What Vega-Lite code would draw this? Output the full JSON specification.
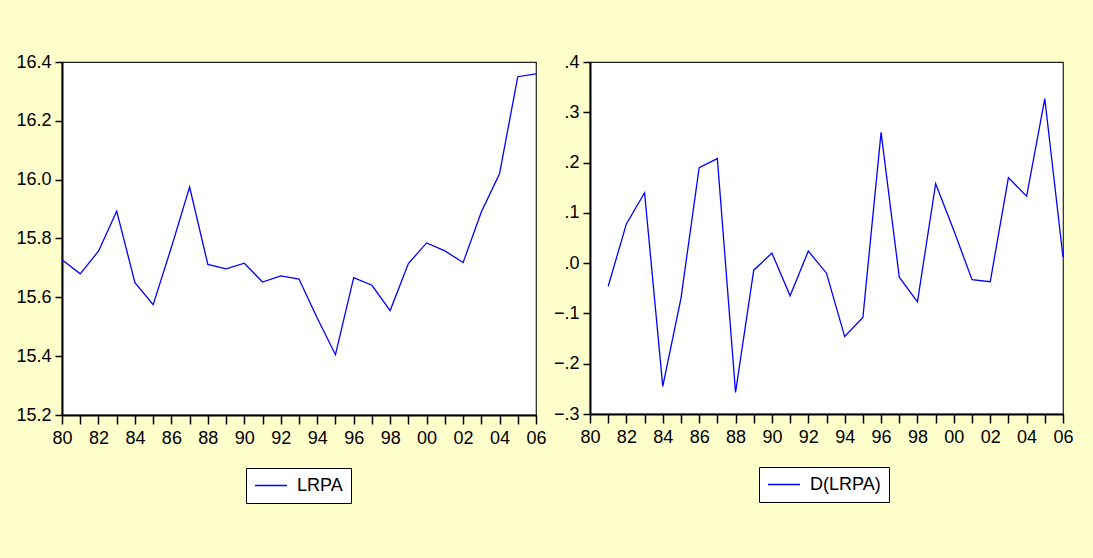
{
  "$schema": "https://vega.github.io/schema/vega-lite/v6.json",
  "background": "#FFFFCC",
  "padding": {"left": 15, "top": 52, "right": 19, "bottom": 53},
  "config": {
    "font": "Liberation Sans",
    "view": {"stroke": "#222222", "strokeWidth": 1.2, "fill": "#FFFFFF"},
    "axis": {
      "domainColor": "#000000",
      "domainWidth": 2,
      "tickColor": "#000000",
      "tickWidth": 1.5,
      "labelColor": "#000000",
      "labelFont": "Liberation Sans",
      "labelFontSize": 18,
      "grid": false,
      "title": null,
      "labelOverlap": false,
      "labelFlush": false
    },
    "axisX": {"tickSize": 9, "labelPadding": 5},
    "axisY": {"tickSize": 7, "labelPadding": 4},
    "legend": {
      "orient": "none",
      "title": null,
      "strokeColor": "#000000",
      "fillColor": "#FFFFFF",
      "padding": 8,
      "symbolType": "stroke",
      "symbolSize": 1024,
      "symbolStrokeWidth": 1.5,
      "clipHeight": 19,
      "labelFont": "Liberation Sans",
      "labelFontSize": 18,
      "labelColor": "#000000",
      "labelOffset": 9
    },
    "concat": {"spacing": 5}
  },
  "resolve": {"scale": {"color": "independent", "x": "independent", "y": "independent"}, "legend": {"color": "independent"}},
  "hconcat": [
    {
      "width": 474,
      "height": 353,
      "data": {"values": [
        {"year": 1980, "value": 15.728, "series": "LRPA"},
        {"year": 1981, "value": 15.680, "series": "LRPA"},
        {"year": 1982, "value": 15.757, "series": "LRPA"},
        {"year": 1983, "value": 15.893, "series": "LRPA"},
        {"year": 1984, "value": 15.650, "series": "LRPA"},
        {"year": 1985, "value": 15.575, "series": "LRPA"},
        {"year": 1986, "value": 15.770, "series": "LRPA"},
        {"year": 1987, "value": 15.975, "series": "LRPA"},
        {"year": 1988, "value": 15.712, "series": "LRPA"},
        {"year": 1989, "value": 15.697, "series": "LRPA"},
        {"year": 1990, "value": 15.716, "series": "LRPA"},
        {"year": 1991, "value": 15.652, "series": "LRPA"},
        {"year": 1992, "value": 15.673, "series": "LRPA"},
        {"year": 1993, "value": 15.662, "series": "LRPA"},
        {"year": 1994, "value": 15.530, "series": "LRPA"},
        {"year": 1995, "value": 15.405, "series": "LRPA"},
        {"year": 1996, "value": 15.667, "series": "LRPA"},
        {"year": 1997, "value": 15.641, "series": "LRPA"},
        {"year": 1998, "value": 15.555, "series": "LRPA"},
        {"year": 1999, "value": 15.715, "series": "LRPA"},
        {"year": 2000, "value": 15.785, "series": "LRPA"},
        {"year": 2001, "value": 15.758, "series": "LRPA"},
        {"year": 2002, "value": 15.718, "series": "LRPA"},
        {"year": 2003, "value": 15.890, "series": "LRPA"},
        {"year": 2004, "value": 16.020, "series": "LRPA"},
        {"year": 2005, "value": 16.350, "series": "LRPA"},
        {"year": 2006, "value": 16.360, "series": "LRPA"}
      ]},
      "mark": {"type": "line", "strokeWidth": 1.3},
      "encoding": {
        "x": {
          "field": "year", "type": "quantitative",
          "scale": {"domain": [1980, 2006], "nice": false, "zero": false},
          "axis": {
            "values": [1980,1981,1982,1983,1984,1985,1986,1987,1988,1989,1990,1991,1992,1993,1994,1995,1996,1997,1998,1999,2000,2001,2002,2003,2004,2005,2006],
            "labelExpr": "datum.value % 2 == 0 ? slice(format(datum.value, 'd'), 2) : ''"
          }
        },
        "y": {
          "field": "value", "type": "quantitative",
          "scale": {"domain": [15.2, 16.4], "nice": false, "zero": false},
          "axis": {"values": [15.2, 15.4, 15.6, 15.8, 16.0, 16.2, 16.4], "format": ".1f"}
        },
        "color": {
          "field": "series", "type": "nominal",
          "scale": {"range": ["#0000FF"]},
          "legend": {"legendX": 184, "legendY": 406}
        }
      }
    },
    {
      "width": 473,
      "height": 352,
      "data": {"values": [
        {"year": 1981, "value": -0.046, "series": "D(LRPA)"},
        {"year": 1982, "value": 0.078, "series": "D(LRPA)"},
        {"year": 1983, "value": 0.140, "series": "D(LRPA)"},
        {"year": 1984, "value": -0.245, "series": "D(LRPA)"},
        {"year": 1985, "value": -0.070, "series": "D(LRPA)"},
        {"year": 1986, "value": 0.190, "series": "D(LRPA)"},
        {"year": 1987, "value": 0.208, "series": "D(LRPA)"},
        {"year": 1988, "value": -0.257, "series": "D(LRPA)"},
        {"year": 1989, "value": -0.014, "series": "D(LRPA)"},
        {"year": 1990, "value": 0.020, "series": "D(LRPA)"},
        {"year": 1991, "value": -0.065, "series": "D(LRPA)"},
        {"year": 1992, "value": 0.024, "series": "D(LRPA)"},
        {"year": 1993, "value": -0.020, "series": "D(LRPA)"},
        {"year": 1994, "value": -0.146, "series": "D(LRPA)"},
        {"year": 1995, "value": -0.108, "series": "D(LRPA)"},
        {"year": 1996, "value": 0.260, "series": "D(LRPA)"},
        {"year": 1997, "value": -0.028, "series": "D(LRPA)"},
        {"year": 1998, "value": -0.077, "series": "D(LRPA)"},
        {"year": 1999, "value": 0.158, "series": "D(LRPA)"},
        {"year": 2000, "value": 0.065, "series": "D(LRPA)"},
        {"year": 2001, "value": -0.033, "series": "D(LRPA)"},
        {"year": 2002, "value": -0.037, "series": "D(LRPA)"},
        {"year": 2003, "value": 0.170, "series": "D(LRPA)"},
        {"year": 2004, "value": 0.133, "series": "D(LRPA)"},
        {"year": 2005, "value": 0.327, "series": "D(LRPA)"},
        {"year": 2006, "value": 0.012, "series": "D(LRPA)"}
      ]},
      "mark": {"type": "line", "strokeWidth": 1.3},
      "encoding": {
        "x": {
          "field": "year", "type": "quantitative",
          "scale": {"domain": [1980, 2006], "nice": false, "zero": false},
          "axis": {
            "values": [1980,1981,1982,1983,1984,1985,1986,1987,1988,1989,1990,1991,1992,1993,1994,1995,1996,1997,1998,1999,2000,2001,2002,2003,2004,2005,2006],
            "labelExpr": "datum.value % 2 == 0 ? slice(format(datum.value, 'd'), 2) : ''"
          }
        },
        "y": {
          "field": "value", "type": "quantitative",
          "scale": {"domain": [-0.3, 0.4], "nice": false, "zero": false},
          "axis": {"values": [-0.3, -0.2, -0.1, 0.0, 0.1, 0.2, 0.3, 0.4], "labelExpr": "replace(format(datum.value, '.1f'), '0.', '.')"}
        },
        "color": {
          "field": "series", "type": "nominal",
          "scale": {"range": ["#0000FF"]},
          "legend": {"legendX": 169, "legendY": 405}
        }
      }
    }
  ]
}
